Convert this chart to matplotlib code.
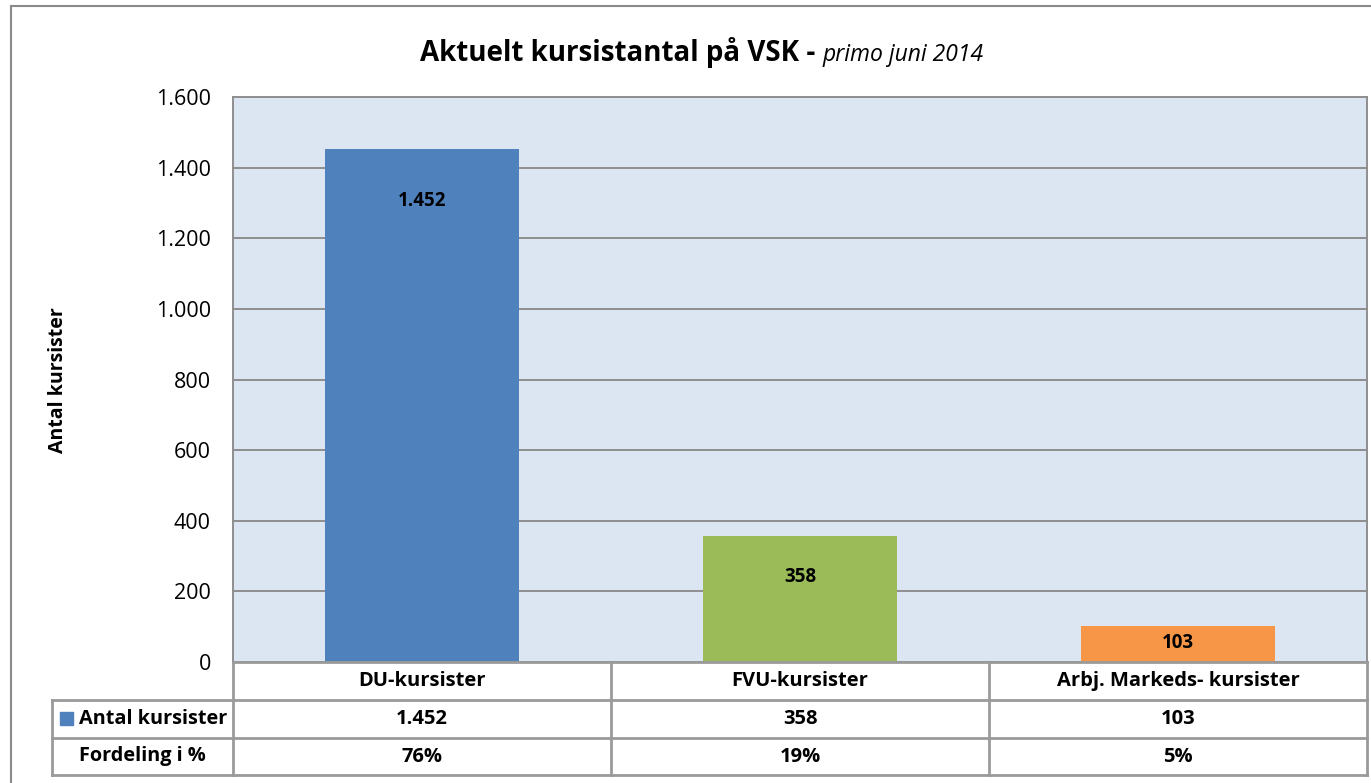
import matplotlib.pyplot as plt
import matplotlib.transforms as mtransforms
from matplotlib.patches import Rectangle
from matplotlib.ticker import FuncFormatter

plt.rcParams['font.family'] = ['Open Sans', 'DejaVu Sans']

categories = ["DU-kursister", "FVU-kursister", "Arbj. Markeds- kursister"]
counts = [1452, 358, 103]
count_labels = ["1.452", "358", "103"]
share_labels = ["76%", "19%", "5%"]
row_names = ["Antal kursister", "Fordeling i %"]
yticks = [0, 200, 400, 600, 800, 1000, 1200, 1400, 1600]

colors = ["#4f81bd", "#9bbb59", "#f79646"]
grid_col = "#8e8e8e"
line_col = "#9a9a9a"

W, H = 1371, 783
fig = plt.figure(figsize=(W / 100, H / 100), dpi=100)


def fx(px):
    return px / W


def fy(py):
    return 1 - py / H


# outer chart frame
fig.patches.append(Rectangle((fx(11), fy(790)), fx(1400), fy(6) - fy(790),
                             transform=fig.transFigure, fill=False,
                             edgecolor="#8a8a8a", linewidth=1.5))

ax = fig.add_axes([fx(233), fy(662), fx(1367) - fx(233), fy(97) - fy(662)])
ax.set_facecolor("#dce6f2")

x = range(len(categories))
bars = ax.bar(x, counts, width=0.513, color=colors, zorder=3)
ax.set_xlim(-0.5, 2.5)
ax.set_ylim(0, 1600)
ax.set_yticks(yticks)
ax.yaxis.set_major_formatter(FuncFormatter(lambda v, p: f"{int(v):,}".replace(",", ".")))
ax.set_xticks([])
ax.tick_params(axis="y", length=0, pad=16, labelsize=15.5)
ax.grid(axis="y", color=grid_col, linewidth=1.4, zorder=1)
for s in ax.spines.values():
    s.set_color(grid_col)
    s.set_linewidth(1.4)

# value labels inside the bars
label_drop = [52, 41, 17]
for b, lab, d in zip(bars, count_labels, label_drop):
    ax.annotate(lab, (b.get_x() + b.get_width() / 2, b.get_height()),
                xytext=(0, -d * 0.72), textcoords="offset points",
                ha="center", va="center", fontsize=13.5, fontweight="bold", zorder=4)

fig.text(fx(58), fy(380), "Antal kursister", rotation=90, ha="center", va="center",
         fontsize=14, fontweight="bold")

# title in two parts
fig.text(fx(815), fy(61), "Aktuelt kursistantal på VSK -", ha="right", va="baseline",
         fontsize=20, fontweight="bold")
fig.text(fx(822), fy(61), "primo juni 2014", ha="left", va="baseline",
         fontsize=16.5, style="italic")

# data table under the axis
tr = mtransforms.blended_transform_factory(ax.transData, fig.transFigure)
rows_y = [662, 700, 738, 775]
lkw = dict(color=line_col, linewidth=2, clip_on=False)
for i in range(len(categories) + 1):
    fig.add_artist(plt.Line2D([i - 0.5, i - 0.5], [fy(662), fy(775)], transform=tr, **lkw))
for py in rows_y:
    fig.add_artist(plt.Line2D([fx(233), fx(1367)], [fy(py), fy(py)],
                              transform=fig.transFigure, **lkw))
for py in rows_y[1:]:
    fig.add_artist(plt.Line2D([fx(52), fx(233)], [fy(py), fy(py)],
                              transform=fig.transFigure, **lkw))
fig.add_artist(plt.Line2D([fx(52), fx(52)], [fy(700), fy(775)],
                          transform=fig.transFigure, **lkw))

row_texts = [categories, count_labels, share_labels]
for r, texts in enumerate(row_texts):
    yc = fy((rows_y[r] + rows_y[r + 1]) / 2)
    for i, t in enumerate(texts):
        fig.text(i, yc, t, transform=tr, ha="center", va="center",
                 fontsize=14.5, fontweight="bold")

fig.patches.append(Rectangle((fx(60), fy(725)), fx(13), fy(712) - fy(725),
                             transform=fig.transFigure, color=colors[0]))
fig.text(fx(79), fy(719), row_names[0], ha="left", va="center", fontsize=14.3, fontweight="bold")
fig.text(fx(142), fy(756), row_names[1], ha="center", va="center", fontsize=14.3, fontweight="bold")

fig.savefig("out.png", dpi=100)
